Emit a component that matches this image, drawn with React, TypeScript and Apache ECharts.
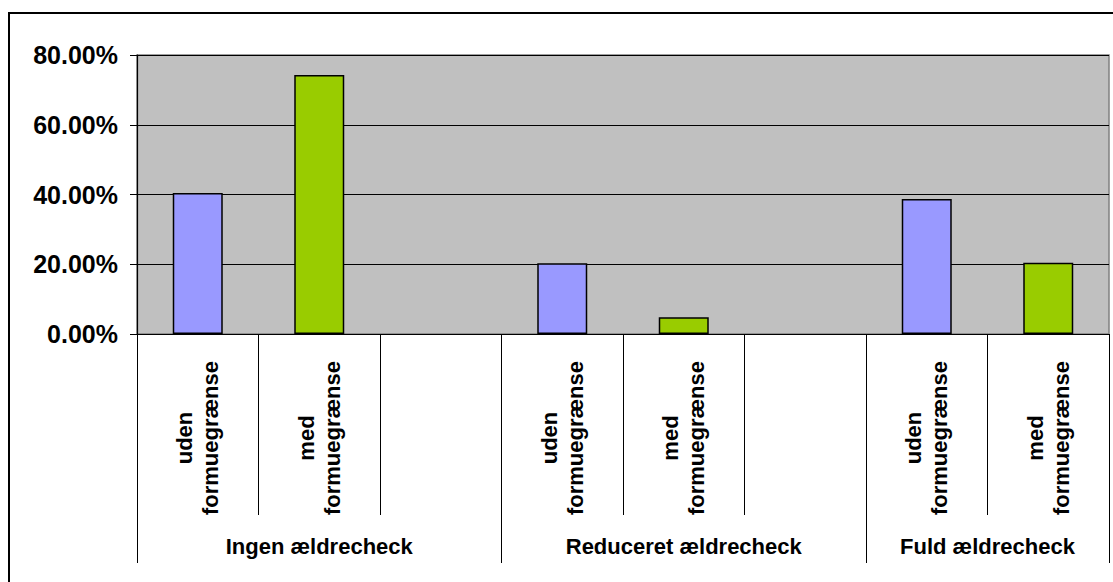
import React, { useEffect, useRef } from "react";
import * as echarts from "echarts";

const categories = [
  "uden\nformuegrænse",
  "med\nformuegrænse",
  "",
  "uden\nformuegrænse",
  "med\nformuegrænse",
  "",
  "uden\nformuegrænse",
  "med\nformuegrænse",
];
const values: (number | string)[] = [40.4, 74.3, "-", 20.3, 4.8, "-", 38.7, 20.4];
const barColors = ["#9999FF", "#99CC00", "#FFFFFF", "#9999FF", "#99CC00", "#FFFFFF", "#9999FF", "#99CC00"];
const groupLabels = ["Ingen ældrecheck", "Reduceret ældrecheck", "Fuld ældrecheck"];
const groupLabelPos = [3, 9, 14]; // in half-slot units
const groupDividers = [0, 6, 12, 16];
const yTicks = [0, 20, 40, 60, 80];

const FONT = 'Arial, "Liberation Sans", sans-serif';

export default function App() {
  const ref = useRef<HTMLDivElement>(null);
  useEffect(() => {
    if (!ref.current) return;
    const chart = echarts.init(ref.current, null, { renderer: "svg" });
    const option: any = {
      animation: false,
      backgroundColor: "#FFFFFF",
      graphic: [
        {
          type: "rect",
          shape: { x: 9, y: 13, width: 1120, height: 600 },
          style: { fill: "none", stroke: "#000", lineWidth: 2 },
          z: 100,
        },
      ],
      grid: {
        left: 137,
        top: 55,
        width: 972,
        height: 279,
        show: true,
        backgroundColor: "#C0C0C0",
        borderColor: "#808080",
        borderWidth: 1.5,
      },
      xAxis: [
        {
          type: "category",
          data: categories,
          boundaryGap: true,
          axisLine: { show: true, lineStyle: { color: "#000", width: 1.2 } },
          axisTick: { show: true, interval: 0, length: 181, lineStyle: { color: "#000", width: 1 } },
          axisLabel: {
            interval: 0,
            rotate: 90,
            align: "center",
            verticalAlign: "middle",
            margin: 104,
            lineHeight: 26,
            fontFamily: FONT,
            fontWeight: "bold",
            fontSize: 22,
            color: "#000",
          },
          splitLine: { show: false },
        },
        {
          type: "value",
          min: 0,
          max: 16,
          position: "bottom",
          axisLine: { show: false },
          splitLine: { show: false },
          axisTick: {
            show: true,
            customValues: groupDividers,
            length: 229,
            lineStyle: { color: "#000", width: 1 },
          },
          axisLabel: {
            customValues: groupLabelPos,
            formatter: (v: number) => groupLabels[groupLabelPos.indexOf(v)] || "",
            margin: 212,
            verticalAlign: "middle",
            fontFamily: FONT,
            fontWeight: "bold",
            fontSize: 22,
            color: "#000",
          },
        },
      ],
      yAxis: {
        type: "value",
        min: yTicks[0],
        max: yTicks[yTicks.length - 1],
        interval: 20,
        axisLine: { show: true, lineStyle: { color: "#000", width: 1.2 } },
        axisTick: { show: true, length: 7, lineStyle: { color: "#000" } },
        axisLabel: {
          formatter: (v: number) => v.toFixed(2) + "%",
          margin: 19,
          fontFamily: FONT,
          fontWeight: "bold",
          fontSize: 25,
          color: "#000",
        },
        splitLine: { show: true, lineStyle: { color: "#000", width: 1 } },
      },
      series: [
        {
          type: "bar",
          xAxisIndex: 0,
          yAxisIndex: 0,
          barWidth: 50,
          data: values.map((v, i) => ({
            value: v,
            itemStyle: { color: barColors[i], borderColor: "#000", borderWidth: 1.5 },
          })),
        },
      ],
    };
    chart.setOption(option);
    return () => chart.dispose();
  }, []);
  return (
    <div
      ref={ref}
      style={{ position: "fixed", left: 0, top: 0, width: 1113, height: 582 }}
    />
  );
}
